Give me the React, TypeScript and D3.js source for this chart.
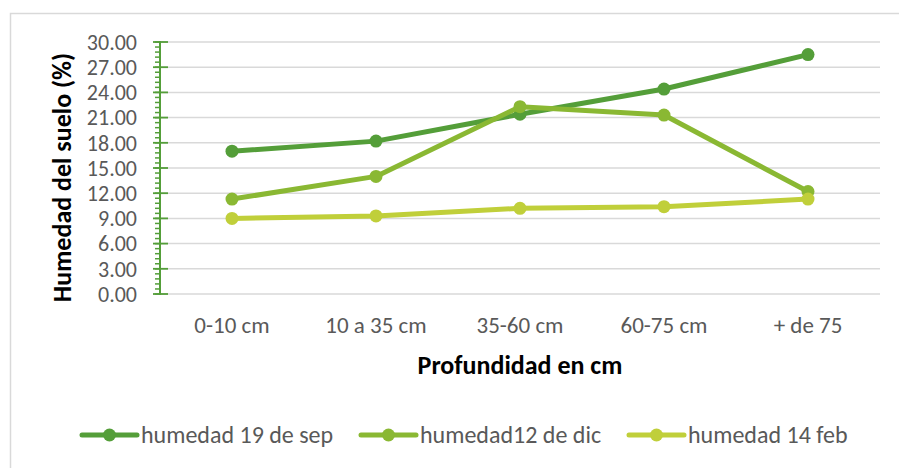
import React, { useEffect, useRef } from 'react';
import * as d3 from 'd3';

const categories = ['0-10 cm', '10 a 35 cm', '35-60 cm', '60-75 cm', '+ de 75'];
const seriesNames = ['humedad 19 de sep', 'humedad12 de dic', 'humedad 14 feb'];
const sepValues = [17.0, 18.2, 21.4, 24.4, 28.5];
const dicValues = [11.3, 14.0, 22.3, 21.3, 12.2];
const febValues = [9.0, 9.3, 10.2, 10.4, 11.3];
const yTicks = [0, 3, 6, 9, 12, 15, 18, 21, 24, 27, 30];
const colors = ['#549e39', '#8ab833', '#c0cf3a'];

const FONT = "Carlito, 'Open Sans', sans-serif";

const App: React.FC = () => {
  const svgRef = useRef<SVGSVGElement>(null);
  const width = 899;
  const height = 468;

  useEffect(() => {
    if (!svgRef.current) return;
    const svg = d3.select(svgRef.current);
    svg.selectAll('*').remove();

    const margin = { top: 42, left: 160, right: 19, bottom: 174 };
    const innerWidth = width - margin.left - margin.right;
    const innerHeight = height - margin.top - margin.bottom;

    // chart frame
    svg.append('rect')
      .attr('x', 10.5)
      .attr('y', 13.5)
      .attr('width', 900)
      .attr('height', 470)
      .attr('fill', '#fff')
      .attr('stroke', '#d9d9d9')
      .attr('stroke-width', 1.5);

    const x = d3.scaleBand()
      .domain(categories)
      .range([0, innerWidth]);

    const y = d3.scaleLinear()
      .domain([0, 30])
      .range([innerHeight, 0]);

    const g = svg.append('g')
      .attr('transform', `translate(${margin.left},${margin.top})`);

    // gridlines
    g.selectAll('.grid')
      .data(yTicks)
      .enter()
      .append('line')
      .attr('x1', 0)
      .attr('x2', innerWidth)
      .attr('y1', d => y(d))
      .attr('y2', d => y(d))
      .attr('stroke', '#d9d9d9')
      .attr('stroke-width', 1.5);

    // y axis: minor ticks on the left, major ticks crossing
    const minor = d3.range(0, 30.001, 0.6);
    g.selectAll('.minor')
      .data(minor)
      .enter()
      .append('line')
      .attr('x1', -5)
      .attr('x2', 0)
      .attr('y1', d => y(d))
      .attr('y2', d => y(d))
      .attr('stroke', colors[0])
      .attr('stroke-width', 1.5);

    g.selectAll('.major')
      .data(yTicks)
      .enter()
      .append('line')
      .attr('x1', -7)
      .attr('x2', 8)
      .attr('y1', d => y(d))
      .attr('y2', d => y(d))
      .attr('stroke', colors[0])
      .attr('stroke-width', 1.8);

    g.append('line')
      .attr('x1', 0)
      .attr('x2', 0)
      .attr('y1', y(30) - 1)
      .attr('y2', y(0) + 1)
      .attr('stroke', colors[0])
      .attr('stroke-width', 2);

    g.selectAll('.ytick')
      .data(yTicks)
      .enter()
      .append('text')
      .attr('x', -23)
      .attr('y', d => y(d))
      .attr('dy', '0.35em')
      .attr('text-anchor', 'end')
      .attr('font-family', FONT)
      .attr('font-size', 22)
      .attr('fill', '#595959')
      .text(d => d.toFixed(2));

    g.selectAll('.xtick')
      .data(categories)
      .enter()
      .append('text')
      .attr('x', d => (x(d) as number) + x.bandwidth() / 2)
      .attr('y', innerHeight + 39)
      .attr('text-anchor', 'middle')
      .attr('font-family', FONT)
      .attr('font-size', 23)
      .attr('fill', '#595959')
      .text(d => d);

    // axis titles
    g.append('text')
      .attr('transform', 'rotate(-90)')
      .attr('x', -135.5)
      .attr('y', -89)
      .attr('text-anchor', 'middle')
      .attr('font-family', FONT)
      .attr('font-weight', 'bold')
      .attr('font-size', 26)
      .attr('fill', '#000')
      .text('Humedad del suelo (%)');

    g.append('text')
      .attr('x', innerWidth / 2)
      .attr('y', innerHeight + 80)
      .attr('text-anchor', 'middle')
      .attr('font-family', FONT)
      .attr('font-weight', 'bold')
      .attr('font-size', 26)
      .attr('fill', '#000')
      .text('Profundidad en cm');

    // series
    const allSeries = [sepValues, dicValues, febValues];
    const line = d3.line<number>()
      .x((d, i) => (x(categories[i]) as number) + x.bandwidth() / 2)
      .y(d => y(d));

    allSeries.forEach((vals, si) => {
      g.append('path')
        .datum(vals)
        .attr('d', line)
        .attr('fill', 'none')
        .attr('stroke', colors[si])
        .attr('stroke-width', 5)
        .attr('stroke-linejoin', 'round')
        .attr('stroke-linecap', 'round');

      g.selectAll(`.pt${si}`)
        .data(vals)
        .enter()
        .append('circle')
        .attr('cx', (d, i) => (x(categories[i]) as number) + x.bandwidth() / 2)
        .attr('cy', d => y(d))
        .attr('r', 6.5)
        .attr('fill', colors[si]);
    });

    // legend
    const legendX = [82, 361, 629];
    const legendY = 435;
    seriesNames.forEach((name, i) => {
      const lg = svg.append('g').attr('transform', `translate(${legendX[i]},${legendY})`);
      lg.append('line')
        .attr('x1', 0)
        .attr('x2', 55)
        .attr('y1', 0)
        .attr('y2', 0)
        .attr('stroke', colors[i])
        .attr('stroke-width', 5)
        .attr('stroke-linecap', 'round');
      lg.append('circle')
        .attr('cx', 27.5)
        .attr('cy', 0)
        .attr('r', 6.5)
        .attr('fill', colors[i]);
      lg.append('text')
        .attr('x', 59)
        .attr('y', 0)
        .attr('dy', '0.35em')
        .attr('font-family', FONT)
        .attr('font-size', 24)
        .attr('fill', '#595959')
        .text(name);
    });
  }, []);

  return (
    <svg
      ref={svgRef}
      width={width}
      height={height}
      style={{ position: 'absolute', left: 0, top: 0, background: '#fff' }}
    ></svg>
  );
};

export default App;
